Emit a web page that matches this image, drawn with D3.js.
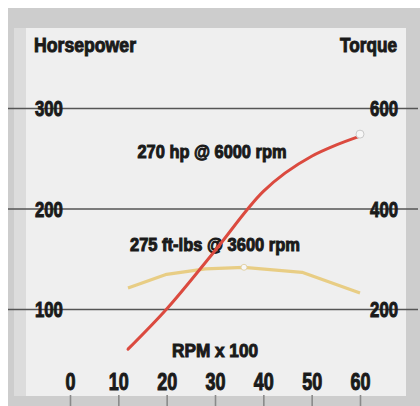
<!DOCTYPE html>
<html>
<head>
<meta charset="utf-8">
<script src="https://cdn.jsdelivr.net/npm/d3@7"></script>
<style>
    html, body { margin: 0; padding: 0; background: #fff; }
    svg text { font-family: 'Liberation Sans', Arial, sans-serif; font-weight: bold; fill: #1a1a1a; }
</style>
</head>
<body>
<div id="chart"></div>
<script>
// rpm x 100 on the bottom axis
var rpmTicks = [0, 10, 20, 30, 40, 50, 60];
var hpTicks = [100, 200, 300];
var torqueTicks = [200, 400, 600];

// horsepower curve (red)
var hpRpm = [12, 20, 30, 40, 50, 55, 60];
var hpValues = [60, 100, 158, 217, 252, 263, 272];

// torque curve (yellow)
var tqRpm = [12, 20, 28, 36, 48, 60];
var tqValues = [242, 269, 280, 283, 273, 232];

var hpPeak = { rpm: 60, value: 272, label: '270 hp @ 6000 rpm' };
var tqPeak = { rpm: 36, value: 283, label: '275 ft-lbs @ 3600 rpm' };

function engineChart() {
    var width = 420;
    var height = 406;

    var x = d3.scaleLinear().domain([0, 60]).range([70, 360]);
    var yHp = d3.scaleLinear().domain([100, 300]).range([309, 108]);
    var yTq = d3.scaleLinear().domain([200, 600]).range([309, 108]);

    var svg = d3.select('#chart')
        .append('svg')
        .attr('width', width)
        .attr('height', height);

    // squeeze bold text to the condensed look of the original
    function squeeze(sel, perChar) {
        sel.attr('lengthAdjust', 'spacingAndGlyphs')
            .attr('textLength', function () { return this.textContent.length * perChar; })
            .attr('stroke', '#1a1a1a').attr('stroke-width', 1);
    }

    // frame
    svg.append('rect')
        .attr('x', 8).attr('y', 8)
        .attr('width', width - 8).attr('height', height - 8)
        .attr('fill', '#cdcdcd');
    svg.append('rect')
        .attr('x', 14).attr('y', 28)
        .attr('width', 12).attr('height', 368)
        .attr('fill', '#dcdcdc');
    svg.append('rect')
        .attr('x', 26).attr('y', 28)
        .attr('width', 380).attr('height', 368)
        .attr('fill', '#efefef');

    // gridlines + hp labels
    var left = svg.append('g')
        .attr('transform', 'translate(8,0)')
        .call(d3.axisRight(yHp).tickValues(hpTicks).tickSize(410).tickFormat(d3.format('d')));
    left.select('.domain').remove();
    left.selectAll('line').attr('stroke', '#555').attr('stroke-width', 1.6);
    left.selectAll('text')
        .attr('x', 27)
        .attr('dy', '0.36em')
        .style('font-size', '22px')
        .attr('text-anchor', 'start')
        .call(squeeze, 9.3);

    var right = svg.append('g')
        .attr('transform', 'translate(398,0)')
        .call(d3.axisLeft(yTq).tickValues(torqueTicks).tickSize(0).tickFormat(d3.format('d')));
    right.select('.domain').remove();
    right.selectAll('text')
        .attr('x', 0)
        .attr('dy', '0.36em')
        .style('font-size', '22px')
        .attr('text-anchor', 'end')
        .call(squeeze, 9.3);

    // rpm axis
    var bottom = svg.append('g')
        .attr('transform', 'translate(0,395)')
        .call(d3.axisBottom(x).tickValues(rpmTicks).tickSize(11));
    bottom.select('.domain').remove();
    bottom.selectAll('line').attr('stroke', '#8a8a8a').attr('stroke-width', 1.6);
    bottom.selectAll('text')
        .attr('y', -5)
        .attr('dy', 0)
        .style('font-size', '23px')
        .call(squeeze, 10);

    var titles = [
        { text: 'Horsepower', x: 34, y: 52, anchor: 'start', size: 20, w: 102 },
        { text: 'Torque', x: 397, y: 52, anchor: 'end', size: 20, w: 57 },
        { text: hpPeak.label, x: 212, y: 158, anchor: 'middle', size: 18, w: 149 },
        { text: tqPeak.label, x: 215, y: 251, anchor: 'middle', size: 18, w: 170 },
        { text: 'RPM x 100', x: 215, y: 357, anchor: 'middle', size: 19, w: 86 }
    ];
    svg.selectAll('.title')
        .data(titles)
        .enter()
        .append('text')
        .attr('class', 'title')
        .attr('x', d => d.x)
        .attr('y', d => d.y)
        .attr('text-anchor', d => d.anchor)
        .style('font-size', d => d.size + 'px')
        .attr('lengthAdjust', 'spacingAndGlyphs')
        .attr('textLength', d => d.w)
        .attr('stroke', '#1a1a1a').attr('stroke-width', 1)
        .text(d => d.text);

    var tqLine = d3.line()
        .x((d, i) => x(tqRpm[i]))
        .y(d => yTq(d));
    var hpLine = d3.line()
        .x((d, i) => x(hpRpm[i]))
        .y(d => yHp(d))
        .curve(d3.curveMonotoneX);

    svg.append('path')
        .datum(tqValues)
        .attr('fill', 'none')
        .attr('stroke', '#e8cd84')
        .attr('stroke-width', 3.2)
        .attr('stroke-linejoin', 'round')
        .attr('d', tqLine);

    svg.append('path')
        .datum(hpValues)
        .attr('fill', 'none')
        .attr('stroke', '#db4a3f')
        .attr('stroke-width', 3)
        .attr('stroke-linecap', 'round')
        .attr('d', hpLine);

    // peak markers
    svg.append('circle')
        .attr('cx', x(hpPeak.rpm)).attr('cy', yHp(hpPeak.value) - 2)
        .attr('r', 4)
        .attr('fill', '#f7f7f7').attr('stroke', '#c9c9c9').attr('stroke-width', 1);
    svg.append('circle')
        .attr('cx', x(tqPeak.rpm)).attr('cy', yTq(tqPeak.value))
        .attr('r', 3)
        .attr('fill', '#f7f7f7').attr('stroke', '#e3d3a8').attr('stroke-width', 1);
}

engineChart();
</script>
</body>
</html>
